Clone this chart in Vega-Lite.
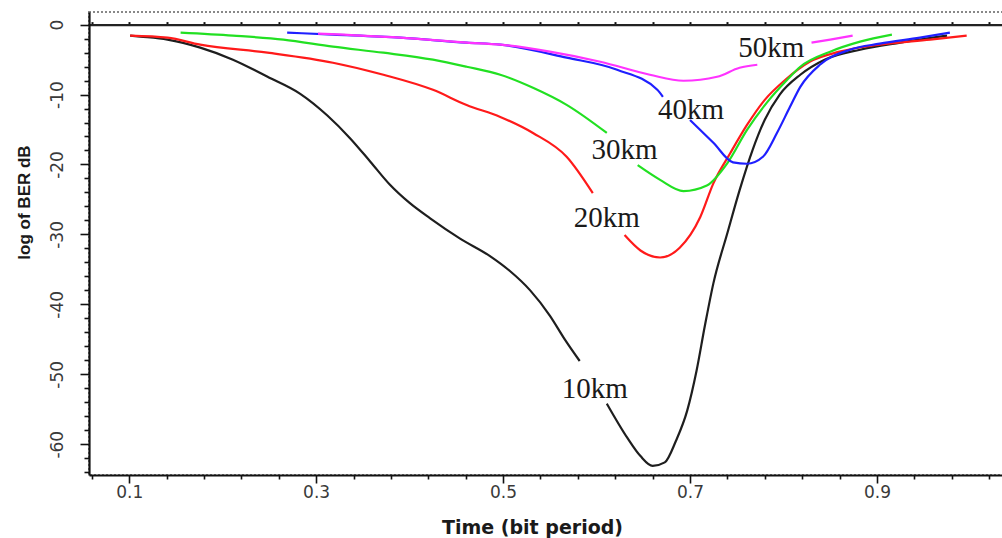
{
  "$schema": "https://vega.github.io/schema/vega-lite/v6.json",
  "autosize": "none",
  "padding": {"left": 89, "top": 12, "right": 0, "bottom": 63},
  "width": 916,
  "height": 463,
  "background": "white",
  "config": {
    "font": "DejaVu Sans",
    "view": {"stroke": "#888888", "strokeDash": [2, 2], "strokeWidth": 2}
  },
  "datasets": {
    "curves": [
      {"dist": "10km", "seg": "10a", "t": 0.101, "v": -1.58},
      {"dist": "10km", "seg": "10a", "t": 0.112, "v": -1.72},
      {"dist": "10km", "seg": "10a", "t": 0.141, "v": -2.15},
      {"dist": "10km", "seg": "10a", "t": 0.176, "v": -3.3},
      {"dist": "10km", "seg": "10a", "t": 0.211, "v": -5.02},
      {"dist": "10km", "seg": "10a", "t": 0.248, "v": -7.46},
      {"dist": "10km", "seg": "10a", "t": 0.283, "v": -9.9},
      {"dist": "10km", "seg": "10a", "t": 0.312, "v": -13.0},
      {"dist": "10km", "seg": "10a", "t": 0.336, "v": -16.2},
      {"dist": "10km", "seg": "10a", "t": 0.358, "v": -19.6},
      {"dist": "10km", "seg": "10a", "t": 0.379, "v": -22.9},
      {"dist": "10km", "seg": "10a", "t": 0.4, "v": -25.5},
      {"dist": "10km", "seg": "10a", "t": 0.422, "v": -27.7},
      {"dist": "10km", "seg": "10a", "t": 0.454, "v": -30.6},
      {"dist": "10km", "seg": "10a", "t": 0.486, "v": -33.1},
      {"dist": "10km", "seg": "10a", "t": 0.507, "v": -35.2},
      {"dist": "10km", "seg": "10a", "t": 0.529, "v": -38.0},
      {"dist": "10km", "seg": "10a", "t": 0.55, "v": -41.6},
      {"dist": "10km", "seg": "10a", "t": 0.566, "v": -45.0},
      {"dist": "10km", "seg": "10a", "t": 0.582, "v": -48.1},
      {"dist": "10km", "seg": "10b", "t": 0.611, "v": -54.2},
      {"dist": "10km", "seg": "10b", "t": 0.633, "v": -59.1},
      {"dist": "10km", "seg": "10b", "t": 0.647, "v": -61.7},
      {"dist": "10km", "seg": "10b", "t": 0.66, "v": -63.1},
      {"dist": "10km", "seg": "10b", "t": 0.673, "v": -62.6},
      {"dist": "10km", "seg": "10b", "t": 0.685, "v": -59.5},
      {"dist": "10km", "seg": "10b", "t": 0.697, "v": -55.2},
      {"dist": "10km", "seg": "10b", "t": 0.707, "v": -49.5},
      {"dist": "10km", "seg": "10b", "t": 0.716, "v": -43.0},
      {"dist": "10km", "seg": "10b", "t": 0.725, "v": -37.0},
      {"dist": "10km", "seg": "10b", "t": 0.74, "v": -29.8},
      {"dist": "10km", "seg": "10b", "t": 0.753, "v": -23.7},
      {"dist": "10km", "seg": "10b", "t": 0.767, "v": -17.9},
      {"dist": "10km", "seg": "10b", "t": 0.78, "v": -13.6},
      {"dist": "10km", "seg": "10b", "t": 0.796, "v": -10.0},
      {"dist": "10km", "seg": "10b", "t": 0.818, "v": -7.17},
      {"dist": "10km", "seg": "10b", "t": 0.844, "v": -5.02},
      {"dist": "10km", "seg": "10b", "t": 0.882, "v": -3.59},
      {"dist": "10km", "seg": "10b", "t": 0.925, "v": -2.58},
      {"dist": "10km", "seg": "10b", "t": 0.975, "v": -1.58},

      {"dist": "20km", "seg": "20a", "t": 0.101, "v": -1.58},
      {"dist": "20km", "seg": "20a", "t": 0.141, "v": -1.87},
      {"dist": "20km", "seg": "20a", "t": 0.176, "v": -2.87},
      {"dist": "20km", "seg": "20a", "t": 0.248, "v": -4.02},
      {"dist": "20km", "seg": "20a", "t": 0.318, "v": -5.45},
      {"dist": "20km", "seg": "20a", "t": 0.372, "v": -7.17},
      {"dist": "20km", "seg": "20a", "t": 0.425, "v": -9.33},
      {"dist": "20km", "seg": "20a", "t": 0.461, "v": -11.5},
      {"dist": "20km", "seg": "20a", "t": 0.497, "v": -13.2},
      {"dist": "20km", "seg": "20a", "t": 0.532, "v": -15.5},
      {"dist": "20km", "seg": "20a", "t": 0.568, "v": -18.9},
      {"dist": "20km", "seg": "20a", "t": 0.596, "v": -24.1},
      {"dist": "20km", "seg": "20b", "t": 0.63, "v": -30.1},
      {"dist": "20km", "seg": "20b", "t": 0.647, "v": -32.3},
      {"dist": "20km", "seg": "20b", "t": 0.668, "v": -33.3},
      {"dist": "20km", "seg": "20b", "t": 0.689, "v": -31.9},
      {"dist": "20km", "seg": "20b", "t": 0.711, "v": -27.5},
      {"dist": "20km", "seg": "20b", "t": 0.725, "v": -22.7},
      {"dist": "20km", "seg": "20b", "t": 0.743, "v": -18.4},
      {"dist": "20km", "seg": "20b", "t": 0.761, "v": -14.35},
      {"dist": "20km", "seg": "20b", "t": 0.78, "v": -10.76},
      {"dist": "20km", "seg": "20b", "t": 0.802, "v": -7.89},
      {"dist": "20km", "seg": "20b", "t": 0.828, "v": -5.31},
      {"dist": "20km", "seg": "20b", "t": 0.86, "v": -3.87},
      {"dist": "20km", "seg": "20b", "t": 0.903, "v": -2.87},
      {"dist": "20km", "seg": "20b", "t": 0.957, "v": -2.15},
      {"dist": "20km", "seg": "20b", "t": 0.996, "v": -1.58},

      {"dist": "30km", "seg": "30a", "t": 0.155, "v": -1.15},
      {"dist": "30km", "seg": "30a", "t": 0.211, "v": -1.58},
      {"dist": "30km", "seg": "30a", "t": 0.265, "v": -2.15},
      {"dist": "30km", "seg": "30a", "t": 0.318, "v": -3.16},
      {"dist": "30km", "seg": "30a", "t": 0.372, "v": -4.02},
      {"dist": "30km", "seg": "30a", "t": 0.425, "v": -5.02},
      {"dist": "30km", "seg": "30a", "t": 0.461, "v": -6.03},
      {"dist": "30km", "seg": "30a", "t": 0.497, "v": -7.17},
      {"dist": "30km", "seg": "30a", "t": 0.532, "v": -9.04},
      {"dist": "30km", "seg": "30a", "t": 0.568, "v": -11.48},
      {"dist": "30km", "seg": "30a", "t": 0.611, "v": -15.5},
      {"dist": "30km", "seg": "30b", "t": 0.644, "v": -20.1},
      {"dist": "30km", "seg": "30b", "t": 0.668, "v": -22.2},
      {"dist": "30km", "seg": "30b", "t": 0.693, "v": -23.8},
      {"dist": "30km", "seg": "30b", "t": 0.718, "v": -23.0},
      {"dist": "30km", "seg": "30b", "t": 0.74, "v": -19.8},
      {"dist": "30km", "seg": "30b", "t": 0.761, "v": -15.06},
      {"dist": "30km", "seg": "30b", "t": 0.782, "v": -11.19},
      {"dist": "30km", "seg": "30b", "t": 0.804, "v": -7.89},
      {"dist": "30km", "seg": "30b", "t": 0.818, "v": -6.03},
      {"dist": "30km", "seg": "30b", "t": 0.85, "v": -3.87},
      {"dist": "30km", "seg": "30b", "t": 0.882, "v": -2.44},
      {"dist": "30km", "seg": "30b", "t": 0.916, "v": -1.43},

      {"dist": "40km", "seg": "40a", "t": 0.269, "v": -1.15},
      {"dist": "40km", "seg": "40a", "t": 0.318, "v": -1.43},
      {"dist": "40km", "seg": "40a", "t": 0.39, "v": -1.87},
      {"dist": "40km", "seg": "40a", "t": 0.461, "v": -2.58},
      {"dist": "40km", "seg": "40a", "t": 0.497, "v": -2.87},
      {"dist": "40km", "seg": "40a", "t": 0.568, "v": -4.73},
      {"dist": "40km", "seg": "40a", "t": 0.622, "v": -6.46},
      {"dist": "40km", "seg": "40a", "t": 0.665, "v": -9.33},
      {"dist": "40km", "seg": "40a", "t": 0.671, "v": -10.33},
      {"dist": "40km", "seg": "40b", "t": 0.7, "v": -13.63},
      {"dist": "40km", "seg": "40b", "t": 0.725, "v": -16.9},
      {"dist": "40km", "seg": "40b", "t": 0.746, "v": -19.7},
      {"dist": "40km", "seg": "40b", "t": 0.761, "v": -19.9},
      {"dist": "40km", "seg": "40b", "t": 0.778, "v": -18.9},
      {"dist": "40km", "seg": "40b", "t": 0.793, "v": -15.5},
      {"dist": "40km", "seg": "40b", "t": 0.807, "v": -11.76},
      {"dist": "40km", "seg": "40b", "t": 0.818, "v": -8.9},
      {"dist": "40km", "seg": "40b", "t": 0.839, "v": -5.74},
      {"dist": "40km", "seg": "40b", "t": 0.871, "v": -3.59},
      {"dist": "40km", "seg": "40b", "t": 0.903, "v": -2.73},
      {"dist": "40km", "seg": "40b", "t": 0.946, "v": -1.87},
      {"dist": "40km", "seg": "40b", "t": 0.978, "v": -1.15},

      {"dist": "50km", "seg": "50a", "t": 0.302, "v": -1.29},
      {"dist": "50km", "seg": "50a", "t": 0.39, "v": -1.87},
      {"dist": "50km", "seg": "50a", "t": 0.461, "v": -2.58},
      {"dist": "50km", "seg": "50a", "t": 0.497, "v": -2.87},
      {"dist": "50km", "seg": "50a", "t": 0.55, "v": -3.87},
      {"dist": "50km", "seg": "50a", "t": 0.604, "v": -5.31},
      {"dist": "50km", "seg": "50a", "t": 0.657, "v": -7.17},
      {"dist": "50km", "seg": "50a", "t": 0.693, "v": -8.03},
      {"dist": "50km", "seg": "50a", "t": 0.729, "v": -7.46},
      {"dist": "50km", "seg": "50a", "t": 0.753, "v": -6.17},
      {"dist": "50km", "seg": "50a", "t": 0.772, "v": -5.74},
      {"dist": "50km", "seg": "50b", "t": 0.83, "v": -2.58},
      {"dist": "50km", "seg": "50b", "t": 0.85, "v": -2.15},
      {"dist": "50km", "seg": "50b", "t": 0.874, "v": -1.58}
    ],
    "labels": [
      {"label": "50km", "t": 0.787, "v": -3.3},
      {"label": "40km", "t": 0.701, "v": -12.2},
      {"label": "30km", "t": 0.63, "v": -17.9},
      {"label": "20km", "t": 0.611, "v": -27.7},
      {"label": "10km", "t": 0.598, "v": -52.1}
    ]
  },
  "layer": [
    {
      "data": {"name": "curves"},
      "mark": {"type": "line", "strokeWidth": 2.2, "interpolate": "monotone", "clip": true},
      "encoding": {
        "x": {
          "field": "t", "type": "quantitative",
          "scale": {"domain": [0.057, 1.037], "nice": false, "zero": false},
          "axis": {
            "orient": "bottom",
            "tickCount": 200,
            "values": [0.06, 0.1, 0.14, 0.18, 0.22, 0.26, 0.3, 0.34, 0.38, 0.42, 0.46, 0.5, 0.54, 0.58, 0.62, 0.66, 0.7, 0.74, 0.78, 0.82, 0.86, 0.9, 0.94, 0.98, 1.02],
            "labelExpr": "abs((datum.value * 10) % 2 - 1) < 0.001 ? format(datum.value, '.1f') : ''",
            "tickSize": {"condition": {"test": "abs((datum.value * 10) % 2 - 1) < 0.001", "value": 8}, "value": 4},
            "tickColor": "#111111", "tickWidth": 1.6,
            "domainColor": "#111111", "domainWidth": 2.2,
            "labelFont": "DejaVu Sans", "labelFontSize": 17, "labelColor": "#3a3a3a", "labelPadding": 1,
            "labelFlush": false, "labelOverlap": false,
            "grid": false,
            "title": "Time (bit period)",
            "titleFont": "DejaVu Sans", "titleFontSize": 19, "titleFontWeight": "bold", "titleColor": "#1a1a1a",
            "titleAnchor": "start", "titleAlign": "center", "titleX": 443, "titleY": 52, "titleBaseline": "middle"
          }
        },
        "y": {
          "field": "v", "type": "quantitative",
          "scale": {"domain": [-64.4, 1.8], "nice": false, "zero": false},
          "axis": {
            "tickCount": 200,
            "values": [-64, -62, -60, -58, -56, -54, -52, -50, -48, -46, -44, -42, -40, -38, -36, -34, -32, -30, -28, -26, -24, -22, -20, -18, -16, -14, -12, -10, -8, -6, -4, -2, 0],
            "labelExpr": "datum.value % 10 === 0 ? '' + datum.value : ''",
            "tickSize": {"condition": {"test": "datum.value % 10 === 0", "value": 9}, "value": 5},
            "tickColor": "#111111", "tickWidth": 1.6,
            "domainColor": "#111111", "domainWidth": 2.2,
            "labelAngle": -90, "labelAlign": "center", "labelBaseline": "bottom",
            "labelFont": "DejaVu Sans", "labelFontSize": 17, "labelColor": "#3a3a3a", "labelPadding": 14,
            "labelFlush": false, "labelOverlap": false,
            "grid": false,
            "title": "log of BER  dB",
            "titleFontSize": 17, "titleFontWeight": "bold", "titleFont": "Liberation Sans", "titleColor": "#1a1a1a",
            "titleAngle": -90, "titleAnchor": "start", "titleX": -65, "titleY": 190, "titleBaseline": "middle", "titleAlign": "center"
          }
        },
        "color": {
          "field": "dist", "type": "nominal",
          "scale": {"domain": ["10km", "20km", "30km", "40km", "50km"], "range": ["#1e1e1e", "#ff1a1a", "#22e022", "#1f1fff", "#ff33ff"]},
          "legend": null
        },
        "detail": {"field": "seg", "type": "nominal"}
      }
    },
    {
      "data": {"name": "labels"},
      "mark": {"type": "text", "font": "Liberation Serif", "fontSize": 29, "color": "#1a1a1a", "align": "center", "baseline": "middle"},
      "encoding": {
        "x": {
          "field": "t", "type": "quantitative",
          "axis": {
            "orient": "top", "offset": -12.6,
            "tickCount": 200,
            "values": [0.06, 0.1, 0.14, 0.18, 0.22, 0.26, 0.3, 0.34, 0.38, 0.42, 0.46, 0.5, 0.54, 0.58, 0.62, 0.66, 0.7, 0.74, 0.78, 0.82, 0.86, 0.9, 0.94, 0.98, 1.02],
            "labels": false, "title": null, "grid": false,
            "tickSize": 3, "tickWidth": 2, "tickColor": "#111111",
            "domainColor": "#222222", "domainWidth": 2.2
          }
        },
        "y": {"field": "v", "type": "quantitative"},
        "text": {"field": "label"}
      }
    }
  ],
  "resolve": {"axis": {"x": "independent"}}
}
